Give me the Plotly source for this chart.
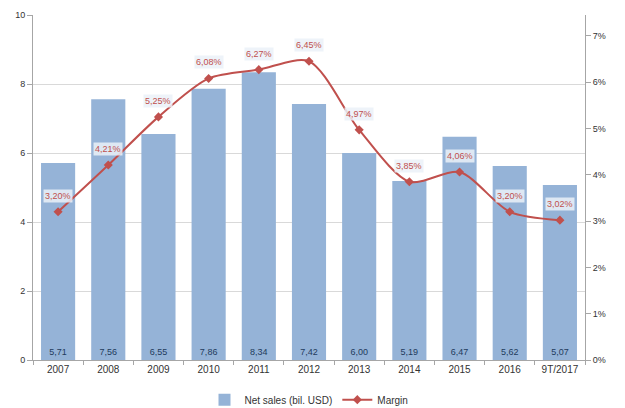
import plotly.graph_objects as go

# Yearly figures
years = ["2007", "2008", "2009", "2010", "2011", "2012", "2013", "2014", "2015", "2016", "9T/2017"]
net_sales = [5.71, 7.56, 6.55, 7.86, 8.34, 7.42, 6.00, 5.19, 6.47, 5.62, 5.07]
margin_pct = [3.20, 4.21, 5.25, 6.08, 6.27, 6.45, 4.97, 3.85, 4.06, 3.20, 3.02]

bar_color = "#95B3D7"
line_color = "#C0504D"
font_family = "Liberation Sans, Arial, sans-serif"

fig = go.Figure()

fig.add_trace(go.Bar(
    x=years, y=net_sales,
    name="Net sales (bil. USD)",
    marker=dict(color=bar_color, line=dict(width=0)),
    text=[f"{v:.2f}".replace(".", ",") for v in net_sales],
    textposition="inside",
    insidetextanchor="start",
    textangle=0,
    textfont=dict(size=9, color="#1F3B5C", family=font_family),
    yaxis="y",
))

fig.add_trace(go.Scatter(
    x=years, y=margin_pct,
    name="Margin",
    mode="lines+markers",
    line=dict(color=line_color, width=2, shape="spline", smoothing=0.8),
    marker=dict(symbol="diamond", size=7, color=line_color),
    yaxis="y2",
))

# Percentage labels with a pale box, placed just above each point
# (category positions given by index so year strings are not read as numbers)
for i, v in enumerate(margin_pct):
    fig.add_annotation(
        x=i, y=v, xref="x", yref="y2",
        text=f"{v:.2f}%".replace(".", ","),
        showarrow=False, yshift=16,
        font=dict(size=9, color=line_color, family=font_family),
        bgcolor="rgba(235,241,248,0.85)",
        borderpad=1,
    )

fig.update_layout(
    width=625, height=408,
    margin=dict(l=33, r=40, t=15, b=48, autoexpand=False),
    paper_bgcolor="white",
    plot_bgcolor="white",
    bargap=0.32,
    font=dict(family=font_family, size=9, color="#333333"),
    showlegend=True,
    legend=dict(
        orientation="h",
        x=0.5, xanchor="center",
        y=-0.115, yanchor="middle",
        font=dict(size=10, color="#333333"),
        tracegroupgap=0,
    ),
    xaxis=dict(
        type="category",
        range=[-0.5, len(years) - 0.5],
        showline=True, linecolor="#A6A6A6", linewidth=1,
        ticks="outside", tickson="boundaries", ticklen=4, tickcolor="#A6A6A6",
        tickfont=dict(size=10, color="#333333"),
        tickangle=0,
        showgrid=False,
    ),
    yaxis=dict(
        range=[0, 10], dtick=2,
        showline=True, linecolor="#A6A6A6", linewidth=1,
        ticks="outside", ticklen=5, tickcolor="#A6A6A6",
        showgrid=True, gridcolor="#D9D9D9", gridwidth=1,
        zeroline=False,
        tickfont=dict(size=9, color="#333333"),
    ),
    yaxis2=dict(
        overlaying="y", side="right",
        range=[0, 7.45], dtick=1, ticksuffix="%",
        showline=True, linecolor="#A6A6A6", linewidth=1,
        ticks="outside", ticklen=5, tickcolor="#A6A6A6",
        showgrid=False, zeroline=False,
        tickfont=dict(size=9, color="#333333"),
    ),
    separators=",.",
)

fig.write_html("out.html")
